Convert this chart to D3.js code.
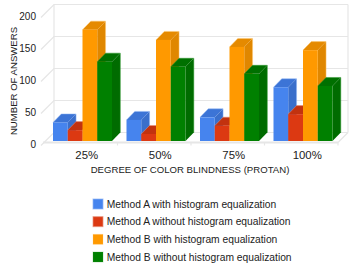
<!DOCTYPE html>
<html><head><meta charset="utf-8">
<script src="https://cdn.jsdelivr.net/npm/d3@7"></script>
<style>html,body{margin:0;padding:0;background:#fff}svg{display:block}text{font-family:"Liberation Sans",Arial,sans-serif;fill:#222}</style>
</head><body><script>
const categories = ["25%","50%","75%","100%"];
const seriesNames = ["Method A with histogram equalization","Method A without histogram equalization","Method B with histogram equalization","Method B without histogram equalization"];
const methodAWith = [29,33,37,84];
const methodAWithout = [17,11,24,42];
const methodBWith = [174,158,147,142];
const methodBWithout = [124,116,105,86];
const yTicks = [0,50,100,150,200];
const colors = ["#4684ee","#dc3912","#ff9900","#008000"];
const sideColors = ["#3a6fcb","#bd300f","#e08700","#006c00"];
const topColors = ["#3c74d6","#c2320f","#e58a00","#007000"];
const edgeColors = ["#8fb5f5","#e8917a","#ffc870","#2f9a2f"];
const series = [methodAWith,methodAWithout,methodBWith,methodBWithout];

const W=354,H=278,dx=10,dy=-10,bdx=8.3,bdy=-8.5;
const svg=d3.select("body").append("svg").attr("width",W).attr("height",H);
const x=d3.scaleBand().domain(categories).range([44,338]);
const y=d3.scaleLinear().domain([0,200]).range([142.5,14.5]);
const yBar=d3.scaleLinear().domain([0,200]).range([141,13]);
const barX=d3.scaleBand().domain(d3.range(4)).range([9,68]);
const grid="#e6e6e6";
const gl=svg.append("g").attr("stroke",grid).attr("fill","none").attr("stroke-width",1.2);
yTicks.forEach(t=>{
  gl.append("polyline").attr("points",`${x.range()[0]-3},${y(t)+3} ${x.range()[0]+dx},${y(t)+dy} ${x.range()[1]+dx},${y(t)+dy}`);
});
gl.append("line").attr("x1",44+dx).attr("x2",44+dx).attr("y1",y(0)+dy).attr("y2",y(200)+dy);
gl.append("line").attr("x1",338+dx).attr("x2",338+dx).attr("y1",y(0)+dy).attr("y2",y(200)+dy);
gl.append("line").attr("x1",338).attr("x2",338+dx).attr("y1",y(0)).attr("y2",y(0)+dy);
gl.append("line").attr("x1",43).attr("x2",338).attr("y1",y(0)).attr("y2",y(0)).attr("stroke-width",2);
categories.slice(1).forEach(c=>gl.append("line").attr("x1",x(c)).attr("x2",x(c)).attr("y1",y(0)).attr("y2",y(0)+3));
gl.append("line").attr("x1",338).attr("x2",338).attr("y1",y(0)).attr("y2",y(0)+3);

const marks=svg.append("g");
categories.forEach((c,i)=>{
  [0,1,2,3].forEach(s=>{
    const v=series[s][i],l=x(c)+barX(s),r=l+barX.bandwidth(),t=yBar(v),b=yBar(0);
    marks.append("polygon").attr("fill",sideColors[s]).attr("points",`${r},${t} ${r+bdx},${t+bdy} ${r+bdx},${b+bdy} ${r},${b}`);
    marks.append("polygon").attr("fill",topColors[s]).attr("points",`${l},${t} ${l+bdx},${t+bdy} ${r+bdx},${t+bdy} ${r},${t}`);
    marks.append("polyline").attr("fill","none").attr("stroke",edgeColors[s]).attr("stroke-width",0.7).attr("stroke-opacity",0.7)
      .attr("points",`${l},${t} ${l+bdx},${t+bdy} ${r+bdx},${t+bdy} ${r+bdx},${b+bdy}`);
    marks.append("rect").attr("x",l).attr("y",t).attr("width",barX.bandwidth()).attr("height",b-t).attr("fill",colors[s]);
  });
});
const ty=svg.append("g").attr("font-size",10);
yTicks.forEach(t=>ty.append("text").attr("x",36).attr("y",y(t)+5.2).attr("text-anchor","end").text(t));
const tx=svg.append("g").attr("font-size",11.4);
categories.forEach(c=>tx.append("text").attr("x",x(c)+x.bandwidth()/2+6).attr("y",159).attr("text-anchor","middle").text(c));
svg.append("text").attr("x",190).attr("y",173).attr("text-anchor","middle").attr("font-size",9.6).text("DEGREE OF COLOR BLINDNESS (PROTAN)");
svg.append("text").attr("transform","translate(17,81) rotate(-90)").attr("text-anchor","middle").attr("font-size",9.6).text("NUMBER OF ANSWERS");
const legY=d3.scalePoint().domain(seriesNames).range([204,257]);
seriesNames.forEach((n,i)=>{
  svg.append("rect").attr("x",93).attr("y",legY(n)-5).attr("width",10).attr("height",10).attr("fill",colors[i])
    .attr("stroke",edgeColors[i]).attr("stroke-width",1).attr("stroke-opacity",i<2?0.7:0.25);
  svg.append("text").attr("x",106.7).attr("y",legY(n)+3.8).attr("font-size",10.27).text(n);
});
</script></body></html>
